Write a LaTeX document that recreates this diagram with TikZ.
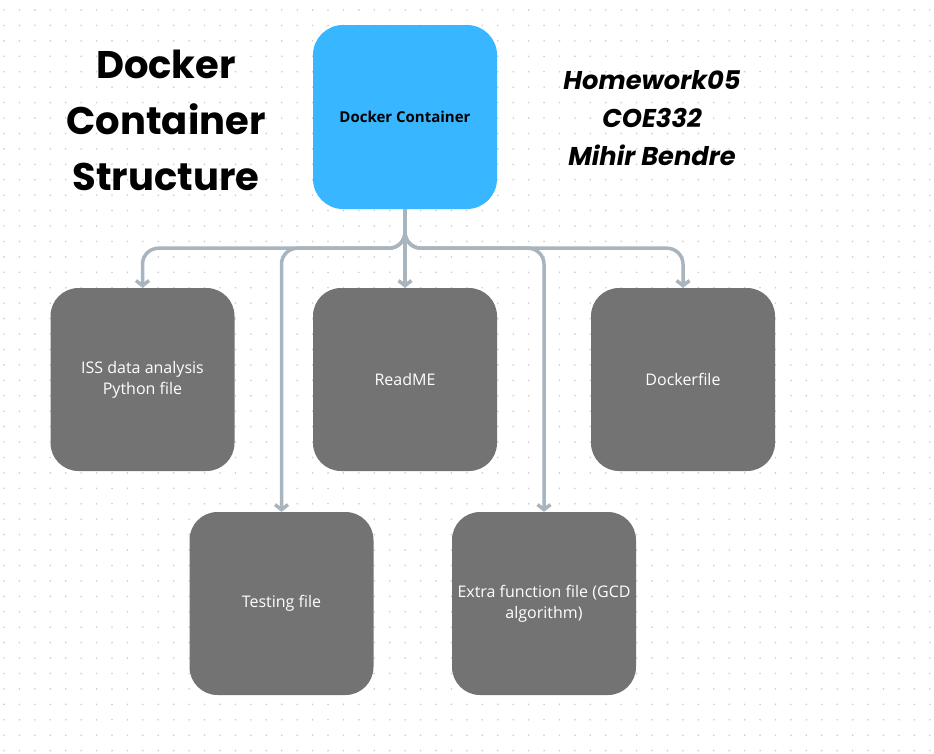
\documentclass[tikz,border=0pt]{standalone}
\usepackage{fontspec}
\setmainfont{Open Sans}
\newfontfamily\titlefont{Poppins}
\usetikzlibrary{arrows.meta}
\definecolor{dotc}{HTML}{C9CDD8}
\definecolor{blueb}{HTML}{38B6FF}
\definecolor{grayb}{HTML}{737373}
\definecolor{linec}{HTML}{A8B5BE}
\begin{document}
\begin{tikzpicture}[x=1pt,y=-1pt,
  box/.style={rounded corners=28pt, minimum width=184pt, minimum height=183pt,
    fill=grayb, text=white, inner sep=0pt, align=center,
    font=\fontsize{16}{21}\selectfont},
  bluebox/.style={rounded corners=30pt, minimum width=184pt, minimum height=184pt,
    fill=blueb, text=black, inner sep=0pt, align=center,
    font=\fontsize{15}{18}\selectfont\bfseries},
  conn/.style={draw=linec, line width=3.5pt, rounded corners=16pt,
    -{Straight Barb[length=5pt,width=13pt]}},
  dot/.style={fill=dotc}]
\fill[white] (0,0) rectangle (934,753);
\useasboundingbox (0,0) rectangle (934,753);
% dot grid
\foreach \i in {0,...,60}{
  \foreach \j in {0,...,48}{
    \fill[dot] ({4+15.43*\i},{10+15.43*\j}) circle (0.9pt);
  }
}
% titles
\node[align=center, font=\titlefont\bfseries\fontsize{38.5}{56}\selectfont] (title) at (166,120)
  {Docker\\Container\\Structure};
\node[align=center, font=\titlefont\bfseries\itshape\fontsize{25.7}{38}\selectfont] (info) at (652,118)
  {Homework05\\COE332\\Mihir Bendre};
% boxes
\node[bluebox] (blue) at (405,117) {Docker Container};
\node[box] (iss) at (142.5,379.5) {ISS data analysis\\Python file};
\node[box] (readme) at (405,379.5) {ReadME};
\node[box] (dockerfile) at (683,379.5) {Dockerfile};
\node[box] (testing) at (281.5,603.5) {Testing file};
\node[box] (extra) at (544,603.5) {Extra function file (GCD\\algorithm)};
% connectors
\draw[conn] (blue.south) -- ++(0,39) -| (iss.north);
\draw[conn] (blue.south) -- ++(0,39) -| (testing.north);
\draw[conn] (blue.south) -- (readme.north);
\draw[conn] (blue.south) -- ++(0,39) -| (extra.north);
\draw[conn] (blue.south) -- ++(0,39) -| (dockerfile.north);
\end{tikzpicture}
\end{document}
